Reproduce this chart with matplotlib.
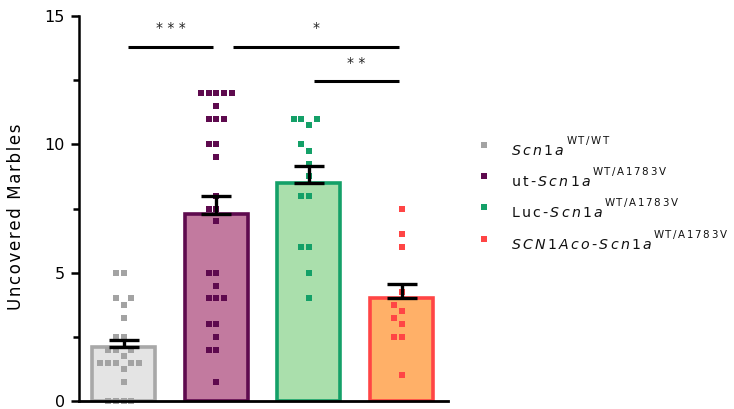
import numpy as np
import matplotlib
matplotlib.use("Agg")
import matplotlib.pyplot as plt
from matplotlib.ticker import MultipleLocator

# Uncovered marbles per animal, one list per group
wt_wt = [5, 5, 4, 4, 3.75, 3.25, 2.5, 2.5, 2, 2, 2, 1.75,
         1.5, 1.5, 1.5, 1.5, 1.5, 1.25, 0.75, 0, 0, 0, 0]
ut_a1783v = [12, 12, 12, 12, 12, 11.5, 11, 11, 11, 10, 10, 9.5, 8, 7.5,
             7.5, 7, 5, 5, 4.5, 4, 4, 4, 3, 3, 2.5, 2, 2, 0.75]
luc_a1783v = [11, 11, 11, 10.75, 10, 9.75, 9.25, 8.75, 8, 8, 6, 6, 5, 4]
scn1aco_a1783v = [7.5, 6.5, 6, 4.25, 3.75, 3.5, 3.25, 3, 2.5, 2.5, 1]

group_values = [wt_wt, ut_a1783v, luc_a1783v, scn1aco_a1783v]
bar_means = [2.1, 7.3, 8.5, 4.0]
bar_sems = [0.28, 0.7, 0.65, 0.57]

# genotype label parts: (plain prefix, italic gene, superscript allele)
label_parts = [
    ("", "Scn1a", "WT/WT"),
    ("ut", "Scn1a", "WT/A1783V"),
    ("Luc", "Scn1a", "WT/A1783V"),
    ("", "SCN1Aco-Scn1a", "WT/A1783V"),
]
edge_colors = ["#a8a8a8", "#5e0a4e", "#14a068", "#ff4545"]
fill_colors = ["#e4e4e4", "#c27a9f", "#aadfac", "#ffb068"]
point_colors = ["#a3a3a3", "#5e0a4e", "#14a068", "#ff4545"]

# significance brackets: (left group, right group, height, label)
sig_pairs = [(0, 1, 13.8, "* * *"), (1, 3, 13.8, "*"), (2, 3, 12.45, "* *")]


def spaced(word, gap):
    """Letter-spaced mathtext body; '-' kept as a hyphen rather than a minus."""
    return gap.join(r"\text{-}" if ch == "-" else ch for ch in word)


def base_label(prefix, gene):
    body = ""
    if prefix:
        body += r"\mathrm{" + spaced(prefix, r"\,") + r"}\,\text{-}\,"
    body += r"\mathit{" + spaced(gene, r"\,") + "}"
    return "$" + body + "$"


def allele_label(allele):
    return r"$\mathrm{" + spaced(allele, r"\,") + "}$"


W, H = 734, 409
fig = plt.figure(figsize=(W / 100, H / 100), dpi=100)
ax = fig.add_axes([79 / W, 8 / H, (448 - 79) / W, (401 - 16) / H])

xmin, xmax, ymin, ymax = -0.48, 3.5, 0, 15
ax.set_xlim(xmin, xmax)
ax.set_ylim(ymin, ymax)

px_per_x = (448 - 79) / (xmax - xmin)
px_per_y = (401 - 16) / (ymax - ymin)

positions = np.arange(len(group_values))
ax.bar(positions, bar_means, width=0.68, color=fill_colors,
       edgecolor=edge_colors, linewidth=2.6, zorder=1)


def swarm_offsets(values, step_px=7.7, min_px=7.0):
    """Place points so that squares do not overlap, closest to centre first."""
    placed = []
    offsets = np.zeros(len(values))
    order = np.argsort(values)
    candidates = [0.0]
    for k in range(1, 8):
        candidates += [-k * step_px, k * step_px]
    for idx in order:
        y = values[idx] * px_per_y
        for c in candidates:
            ok = all(not (abs(y - py) < min_px and abs(c - px) < min_px)
                     for px, py in placed)
            if ok:
                placed.append((c, y))
                offsets[idx] = c / px_per_x
                break
    return offsets


for i, vals in enumerate(group_values):
    vals = np.asarray(vals, dtype=float)
    offs = swarm_offsets(vals)
    ax.plot(positions[i] + offs, vals, linestyle="none", marker="s",
            markersize=4.3, markeredgewidth=0, color=point_colors[i],
            zorder=2, clip_on=False)

ax.errorbar(positions, bar_means, yerr=[np.zeros(4), bar_sems], fmt="none",
            ecolor="black", elinewidth=2.4, capsize=11, capthick=2.4, zorder=3)

for a, b, h, txt in sig_pairs:
    x0 = positions[a] + 0.05
    x1 = positions[b] - 0.03
    if a == 1:
        x0 = positions[a] + 0.18
    ax.plot([x0, x1], [h, h], color="black", linewidth=2.2,
            solid_capstyle="butt", clip_on=False, zorder=3)
    ax.text((x0 + x1) / 2, h + 0.45, txt, ha="center", va="bottom",
            fontsize=10, color="#222222")

for s in ("top", "right"):
    ax.spines[s].set_visible(False)
ax.spines["left"].set_linewidth(1.8)
ax.spines["bottom"].set_linewidth(2.0)
ax.set_xticks([])
ax.yaxis.set_major_locator(MultipleLocator(5))
ax.yaxis.set_minor_locator(MultipleLocator(2.5))
ax.tick_params(axis="y", which="major", length=6, width=1.8, labelsize=11.5,
               pad=4)
ax.tick_params(axis="y", which="minor", length=4.5, width=1.8)
ax.set_ylabel("\u200a".join("Uncovered Marbles"), fontsize=12)
ax.yaxis.set_label_coords(-0.146, 0.478)

# legend: small squares with genotype labels and raised allele superscripts
legend_rows = [145, 176, 207, 239]
renderer = fig.canvas.get_renderer()
for i, yy in enumerate(legend_rows):
    prefix, gene, allele = label_parts[i]
    fig.add_artist(plt.Line2D([484 / W], [1 - yy / H], marker="s",
                              markersize=4.3, markeredgewidth=0,
                              color=point_colors[i], transform=fig.transFigure))
    base = fig.text(511 / W, 1 - (yy + 10) / H, base_label(prefix, gene),
                    fontsize=10.2, ha="left", va="baseline", color="#111111")
    x_end = base.get_window_extent(renderer).x1
    fig.text((x_end + 1) / W, 1 - (yy - 1) / H, allele_label(allele),
             fontsize=7.4, ha="left", va="baseline", color="#111111")

fig.savefig("out.png", dpi=100)
